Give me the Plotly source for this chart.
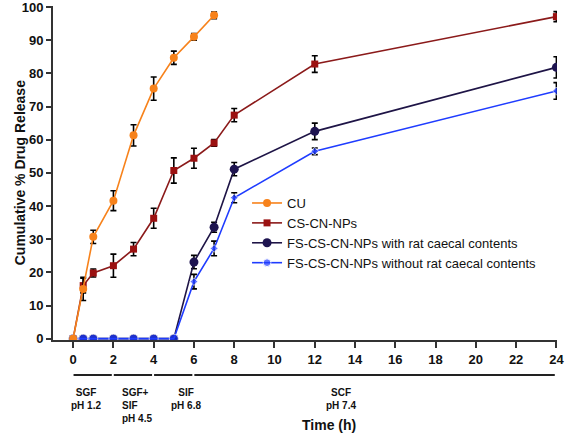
import plotly.graph_objects as go

# ---- data ----
t_cu = [0, 0.5, 1, 2, 3, 4, 5, 6, 7]
cu = [0, 15.0, 30.7, 41.6, 61.3, 75.4, 84.7, 91.0, 97.5]
cu_err = [0, 3.5, 2.0, 3.0, 3.2, 3.5, 2.0, 1.0, 1.0]

t_ext = [0, 0.5, 1, 2, 3, 4, 5, 6, 7, 8, 12, 24]
cs = [0, 16.0, 19.8, 22.0, 27.0, 36.3, 50.7, 54.4, 59.0, 67.4, 82.8, 97.1]
cs_err = [0, 2.2, 1.2, 3.5, 2.0, 3.0, 3.8, 3.0, 1.0, 2.0, 2.5, 1.5]

fs_with = [0, 0, 0, 0, 0, 0, 0, 23.1, 33.6, 51.1, 62.5, 81.8]
fs_with_err = [0, 0, 0, 0, 0, 0, 0, 2.0, 1.5, 2.0, 2.5, 3.2]

fs_without = [0, 0, 0, 0, 0, 0, 0, 17.2, 27.2, 42.5, 56.5, 74.7]
fs_without_err = [0, 0, 0, 0, 0, 0, 0, 2.2, 2.2, 1.5, 1.0, 2.5]

names = ["CU", "CS-CN-NPs", "FS-CS-CN-NPs with rat caecal contents",
         "FS-CS-CN-NPs without rat caecal contents"]

x_ticks = list(range(0, 25, 2))
y_ticks = list(range(0, 101, 10))

# phases: (label, start, end)
phases = [("SGF<br>pH 1.2", 0, 2), ("SGF+<br>SIF<br>pH 4.5", 2, 4),
          ("SIF<br>pH 6.8", 4, 6), ("SCF<br>pH 7.4", 6, 24)]

FONT = "Liberation Sans, Arial, sans-serif"

def err(vals):
    return dict(type="data", array=vals, visible=True, color="black",
                thickness=1.6, width=3)

fig = go.Figure()
fig.add_trace(go.Scatter(x=t_ext, y=cs, name=names[1], mode="lines+markers",
                         line=dict(color="#8b1a1a", width=1.6),
                         marker=dict(symbol="square", size=7, color="#9b1111"),
                         error_y=err(cs_err), legendrank=2))
fig.add_trace(go.Scatter(x=t_ext, y=fs_with, name=names[2], mode="lines+markers",
                         line=dict(color="#1e1446", width=1.6),
                         marker=dict(symbol="circle", size=9, color="#1e1450"),
                         error_y=err(fs_with_err), legendrank=3))
blue_sizes = [9 if v == 0 else 6 for v in fs_without]
blue_syms = ["circle" if v == 0 else "diamond" for v in fs_without]
fig.add_trace(go.Scatter(x=t_ext, y=fs_without, name=names[3], mode="lines+markers",
                         line=dict(color="#1f3cff", width=1.6),
                         marker=dict(symbol=blue_syms, size=blue_sizes, color="#1f3cff"),
                         error_y=err(fs_without_err), legendrank=4))
fig.add_trace(go.Scatter(x=t_cu, y=cu, name=names[0], mode="lines+markers",
                         line=dict(color="#f7821b", width=1.6),
                         marker=dict(symbol="circle", size=8, color="#f7821b"),
                         error_y=err(cu_err), legendrank=1))

# phase bars and labels
label_pos = [(0.66, "center"), (2.35, "left"), (5.6, "center"), (13.3, "center")]
for (lab, s, e), (lx, al) in zip(phases, label_pos):
    fig.add_shape(type="line", xref="x", yref="paper", x0=s + 0.02, x1=e - 0.08,
                  y0=-0.105, y1=-0.105, line=dict(color="#222", width=2))
    fig.add_annotation(x=lx, y=-0.135, xref="x", yref="paper", text=lab,
                       showarrow=False, xanchor="center" if al == "center" else "left",
                       yanchor="top", align=al,
                       font=dict(family=FONT, size=10, color="#111", weight="bold"))

fig.add_annotation(x=12.7, y=-0.225, xref="x", yref="paper", text="Time (h)",
                   showarrow=False, xanchor="center", yanchor="top",
                   font=dict(family=FONT, size=14, color="#111", weight="bold"))
fig.add_annotation(x=-0.065, y=0.5, xref="paper", yref="paper",
                   text="Cumulative % Drug Release", textangle=-90,
                   showarrow=False, xanchor="center", yanchor="middle",
                   font=dict(family=FONT, size=14, color="#111", weight="bold"))

fig.update_xaxes(range=[-1, 24.03], tickvals=x_ticks, showline=True,
                 linecolor="#333", linewidth=2, ticks="outside", ticklen=6,
                 tickwidth=2, tickcolor="#333", showgrid=False, zeroline=False,
                 ticklabeloverflow="allow",
                 tickfont=dict(family=FONT, size=13, color="#111", weight="bold"))
fig.update_yaxes(range=[-0.4, 100.3], tickvals=y_ticks, showline=True,
                 linecolor="#333", linewidth=2, ticks="outside", ticklen=5,
                 tickwidth=2, tickcolor="#333", showgrid=False, zeroline=False,
                 ticklabeloverflow="allow",
                 tickfont=dict(family=FONT, size=13, color="#111", weight="bold"))

fig.update_layout(
    width=567, height=435,
    margin=dict(l=53, r=10, t=6, b=95, autoexpand=False),
    plot_bgcolor="white", paper_bgcolor="white",
    showlegend=True,
    legend=dict(x=0.385, y=0.455, xanchor="left", yanchor="top",
                bgcolor="rgba(0,0,0,0)", tracegroupgap=0,
                font=dict(family=FONT, size=13, color="#111")),
)

fig.write_html("out.html", config={"displayModeBar": False},
               post_script="document.body.style.margin='0';document.body.style.overflow='hidden';")
